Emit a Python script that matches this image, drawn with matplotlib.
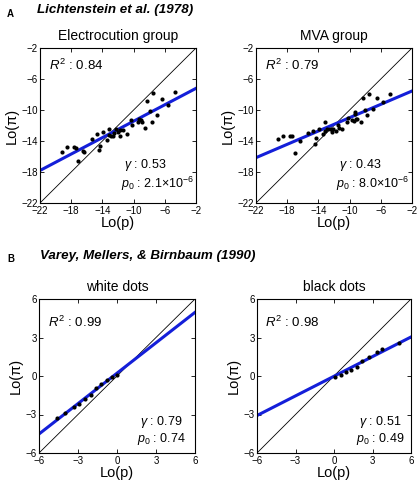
import numpy as np
import matplotlib
matplotlib.use("Agg")
import matplotlib.pyplot as plt

plt.rcParams['font.family'] = ['Liberation Sans', 'DejaVu Sans']
plt.rcParams['mathtext.fontset'] = 'custom'
plt.rcParams['mathtext.rm'] = 'Liberation Sans'
plt.rcParams['mathtext.it'] = 'Liberation Sans:italic'

# --- data ---
elec_x = [-19.2, -18.6, -17.6, -17.4, -17.1, -16.5, -16.4, -15.3, -14.7, -14.5,
          -14.3, -13.9, -13.4, -13.2, -13.1, -12.9, -12.6, -12.45, -12.3, -12.0,
          -11.75, -11.7, -11.3, -10.9, -10.3, -10.2, -9.5, -9.3, -9.1, -8.9,
          -8.6, -8.25, -7.9, -7.7, -7.5, -6.95, -6.4, -5.65, -4.7]
elec_y = [-15.45, -14.8, -14.8, -14.9, -16.6, -15.25, -15.4, -13.8, -13.1, -15.1,
          -14.65, -12.8, -13.9, -13.2, -12.5, -13.4, -13.35, -13.0, -12.4, -12.9,
          -13.4, -12.6, -12.6, -13.1, -11.3, -12.0, -11.5, -11.1, -11.3, -11.5,
          -12.3, -8.8, -10.1, -11.6, -7.85, -10.7, -8.6, -9.3, -7.7]

mva_x = [-19.2, -18.5, -17.6, -17.4, -17.0, -16.4, -15.3, -14.65, -14.5, -14.3,
         -13.9, -13.4, -13.1, -13.2, -12.9, -12.5, -12.25, -12.1, -11.7, -11.5,
         -11.4, -11.0, -10.3, -10.25, -9.7, -9.5, -9.35, -9.3, -9.2, -9.0,
         -8.6, -8.25, -8.0, -7.8, -7.55, -7.0, -6.5, -5.7, -4.8]
mva_y = [-13.8, -13.3, -13.4, -13.4, -15.6, -14.0, -13.0, -12.7, -14.4, -13.6,
         -12.5, -13.1, -11.6, -12.7, -12.5, -12.5, -12.8, -12.4, -12.7, -12.0,
         -12.3, -12.4, -11.6, -11.0, -11.3, -11.4, -10.2, -10.5, -11.2, -11.1,
         -11.6, -8.4, -10.0, -10.7, -7.9, -9.9, -8.5, -9.0, -8.0]

white_x = [-4.6, -4.0, -3.3, -2.9, -2.5, -2.0, -1.6, -1.2, -0.8, -0.4, 0.0]
white_y = [-3.25, -2.85, -2.4, -2.15, -1.8, -1.45, -0.95, -0.6, -0.35, -0.05, 0.05]

black_x = [0.08, 0.52, 0.94, 1.33, 1.77, 2.2, 2.73, 3.38, 3.72, 5.07]
black_y = [-0.1, 0.08, 0.29, 0.47, 0.72, 1.19, 1.45, 1.85, 2.08, 2.55]

titles = ["Electrocution group", "MVA group", "white dots", "black dots"]
r2 = ["0.84", "0.79", "0.99", "0.98"]
gammas = [0.53, 0.43, 0.79, 0.51]
p0s = [2.1e-6, 8.0e-6, 0.74, 0.49]
p0_txt = [r"$2.1{\times}10^{-6}$", r"$8.0{\times}10^{-6}$", "0.74", "0.49"]

fig = plt.figure(figsize=(4.2, 4.88), dpi=100)

W, H = 420.0, 488.0
boxes = [(40, 48, 156, 155), (256, 48, 156, 155), (39, 299, 156, 154), (257, 299, 154, 154)]
datas = [(elec_x, elec_y), (mva_x, mva_y), (white_x, white_y), (black_x, black_y)]
lims = [(-22, -2), (-22, -2), (-6, 6), (-6, 6)]
ticks = [np.arange(-22, -1, 4), np.arange(-22, -1, 4), np.arange(-6, 7, 3), np.arange(-6, 7, 3)]
# where the gamma / p0 block starts (axes fraction)
gx = [0.52, 0.51, 0.63, 0.645]

blue = (0.08, 0.12, 0.85)

for i in range(4):
    x0, y0, w, h = boxes[i]
    ax = fig.add_axes([x0 / W, 1 - (y0 + h) / H, w / W, h / H])
    lo, hi = lims[i]
    ax.set_xlim(lo, hi)
    ax.set_ylim(lo, hi)
    ax.set_xticks(ticks[i])
    ax.set_yticks(ticks[i])
    ax.tick_params(direction='in', top=True, right=True, length=3, width=0.6,
                   labelsize=7)
    ax.tick_params(axis='x', pad=2.5)
    ax.tick_params(axis='y', pad=1.5)
    for s in ax.spines.values():
        s.set_linewidth(0.8)

    # diagonal and LLO fit line
    ax.plot([lo, hi], [lo, hi], color='k', lw=0.6)
    g = gammas[i]
    lp0 = np.log(p0s[i] / (1 - p0s[i]))
    xx = np.array([lo, hi])
    ax.plot(xx, g * xx + (1 - g) * lp0, color=blue, lw=2.2)

    ax.scatter(datas[i][0], datas[i][1], s=9, color='k', zorder=3, linewidths=0)

    ax.set_title(titles[i], fontsize=10, pad=6)
    ax.set_xlabel("Lo(p)", fontsize=10.5, labelpad=0)
    ax.set_ylabel("Lo(\u03c0)", fontsize=10.5, labelpad=2)

    ry = 0.885 if i < 2 else 0.85
    ax.text(0.055, ry, "$R^2$ : " + r2[i], transform=ax.transAxes, fontsize=9.5,
            ha='left', va='center')
    gy = 0.245 if i < 2 else 0.2
    py = 0.12 if i < 2 else 0.09
    ax.text(gx[i] + 0.02, gy, r"$\gamma$ : %.2f" % g, transform=ax.transAxes,
            fontsize=9, ha='left', va='center')
    ax.text(gx[i], py, r"$p_0$ : " + p0_txt[i], transform=ax.transAxes,
            fontsize=9, ha='left', va='center')

fig.text(7 / W, 1 - 14 / H, "A", fontsize=7, fontweight='bold', va='center')
fig.text(115 / W, 1 - 10 / H, "Lichtenstein et al. (1978)", fontsize=9.6,
         fontweight='bold', style='italic', ha='center', va='center')
fig.text(7 / W, 1 - 259 / H, "B", fontsize=7, fontweight='bold', va='center')
fig.text(148 / W, 1 - 256 / H, "Varey, Mellers, & Birnbaum (1990)", fontsize=9.6,
         fontweight='bold', style='italic', ha='center', va='center')

fig.savefig("out.png", dpi=100)
